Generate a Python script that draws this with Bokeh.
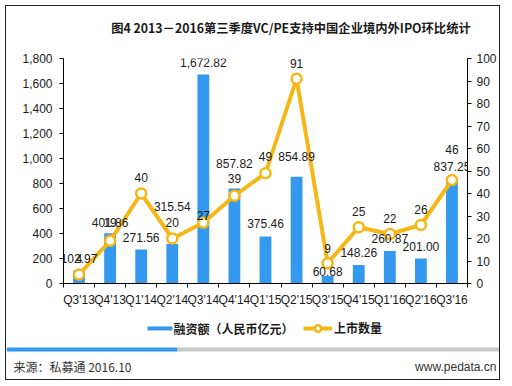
from bokeh.plotting import figure
from bokeh.layouts import column
from bokeh.models import (Range1d, LinearAxis, FixedTicker, NumeralTickFormatter,
                          ColumnDataSource, LabelSet, Label, BoxAnnotation, Legend, LegendItem)
from bokeh.core.properties import value
from bokeh.embed import file_html
from bokeh.resources import INLINE

# ---- data ----
quarters = ["Q3'13", "Q4'13", "Q1'14", "Q2'14", "Q3'14", "Q4'14", "Q1'15",
            "Q2'15", "Q3'15", "Q4'15", "Q1'16", "Q2'16", "Q3'16"]
amount = [102.97, 401.86, 271.56, 315.54, 1672.82, 857.82, 375.46,
          854.89, 60.68, 148.26, 260.87, 201.00, 837.25]
# bar heights as drawn in the picture (Q4'14 bar is drawn lower than its label)
bar_amount = [102.97, 401.86, 271.56, 315.54, 1672.82, 760.0, 375.46,
              854.89, 60.68, 148.26, 260.87, 201.00, 837.25]
ipo_count = [4, 19, 40, 20, 27, 39, 49, 91, 9, 25, 22, 26, 46]
left_ticks = [0, 200, 400, 600, 800, 1000, 1200, 1400, 1600, 1800]
right_ticks = [0, 10, 20, 30, 40, 50, 60, 70, 80, 90, 100]

# ---- label placement (pixels above the value) ----
bar_label_dy = [12, 11, 12, 38, 12, 13, 13, 20, 4, 12, 12, 12, 12]
cnt_label_dy = [16, 18, 16, 16, 7, 17, 17, 15, 15, 16, 16, 16, 31]

BLUE = "#3399EE"
YELLOW = "#F5B715"
TXT = "#1a1a1a"
NUMFONT = "Liberation Sans"
CJK = "Noto Sans CJK SC"
W = 493


def blank_fig(h):
    f = figure(width=W, height=h, x_range=Range1d(0, W), y_range=Range1d(h, 0),
               x_axis_location=None, y_axis_location=None,
               min_border_left=0, min_border_right=0, min_border_top=0, min_border_bottom=0,
               output_backend="svg", toolbar_location=None)
    f.grid.visible = False
    f.outline_line_color = None
    f.background_fill_color = "white"
    f.border_fill_color = "white"
    f.frame_align = False
    return f


# ---- header with title ----
head = blank_fig(44)
head.add_layout(Label(x=284.5, y=21,
                      text="图4 2013－2016第三季度VC/PE支持中国企业境内外IPO环比统计",
                      text_align="center", text_baseline="middle",
                      text_font=CJK, text_font_size="12.3px", text_font_style="bold",
                      text_color=TXT))

# ---- main chart ----
idx = list(range(len(quarters)))
src = ColumnDataSource(dict(
    x=idx, bar=bar_amount, amt=amount,
    amt_txt=[f"{v:,.2f}" for v in amount],
    cnt=ipo_count, cnt_txt=[str(c) for c in ipo_count],
    bdy=bar_label_dy, cdy=cnt_label_dy))

p = figure(frame_width=404, frame_height=225,
           min_border_left=57, min_border_right=32, min_border_top=8, min_border_bottom=26,
           x_range=Range1d(-0.5, len(quarters) - 0.5), y_range=Range1d(0, 1800),
           output_backend="svg", toolbar_location=None)
p.extra_y_ranges = {"cnt": Range1d(0, 100)}
p.grid.visible = False
p.outline_line_color = None
p.background_fill_color = "white"
p.border_fill_color = "white"
p.frame_align = False

xa = p.xaxis[0]
xa.ticker = FixedTicker(ticks=idx, minor_ticks=[i - 0.5 for i in range(len(quarters) + 1)])
xa.major_label_overrides = {i: q for i, q in enumerate(quarters)}
xa.major_tick_out = 0
xa.major_tick_in = 0
xa.minor_tick_out = 4
xa.minor_tick_in = 0
xa.minor_tick_line_color = "black"
xa.axis_line_color = "black"
xa.major_label_standoff = 5
xa.major_label_text_font = NUMFONT
xa.major_label_text_font_size = "12px"
xa.major_label_text_color = TXT

ya = p.yaxis[0]
ya.ticker = FixedTicker(ticks=left_ticks)
ya.formatter = NumeralTickFormatter(format="0,0")
ya.major_tick_out = 4
ya.major_tick_in = 0
ya.minor_tick_out = 0
ya.minor_tick_in = 0
ya.axis_line_color = "black"
ya.major_tick_line_color = "black"
ya.major_label_standoff = 7
ya.major_label_text_font = NUMFONT
ya.major_label_text_font_size = "12px"
ya.major_label_text_color = TXT

ra = LinearAxis(y_range_name="cnt", ticker=FixedTicker(ticks=right_ticks))
ra.major_tick_out = 4
ra.major_tick_in = 0
ra.minor_tick_out = 0
ra.minor_tick_in = 0
ra.axis_line_color = "black"
ra.major_tick_line_color = "black"
ra.major_label_standoff = 5
ra.major_label_text_font = NUMFONT
ra.major_label_text_font_size = "12px"
ra.major_label_text_color = TXT
p.add_layout(ra, "right")

p.vbar(x="x", top="bar", width=0.38, source=src, fill_color=BLUE, line_color=None)
p.line(x="x", y="cnt", y_range_name="cnt", source=src, line_color=YELLOW, line_width=4)
p.scatter(x="x", y="cnt", y_range_name="cnt", source=src, size=10,
          fill_color="white", line_color=YELLOW, line_width=2.5)

p.add_layout(LabelSet(x="x", y="amt", text="amt_txt", y_offset="bdy", source=src,
                      text_align="center", text_baseline="middle",
                      text_font=value(NUMFONT), text_font_size="12px", text_color=TXT))
p.add_layout(LabelSet(x="x", y="cnt", text="cnt_txt", y_offset="cdy", source=src,
                      y_range_name="cnt", text_align="center", text_baseline="middle",
                      text_font=value(NUMFONT), text_font_size="12px", text_color=TXT))

# ---- footer: legend, separator, source ----
foot = blank_fig(70)
foot.add_layout(BoxAnnotation(left=141, right=166, top=17, bottom=21,
                              fill_color=BLUE, fill_alpha=1, line_color=None))
foot.add_layout(Label(x=167, y=19, text="融资额（人民币亿元）",
                      text_align="left", text_baseline="middle",
                      text_font=CJK, text_font_size="12px", text_font_style="bold",
                      text_color=TXT))
nan = float("nan")
dummy_line = foot.line(x=[nan, nan], y=[nan, nan], line_color=YELLOW, line_width=4)
dummy_pts = foot.scatter(x=[nan], y=[nan], size=10, fill_color="white",
                         line_color=YELLOW, line_width=2.5)
leg = Legend(items=[LegendItem(label="上市数量", renderers=[dummy_line, dummy_pts])],
             location=(297, 43), orientation="horizontal",
             glyph_width=29, glyph_height=16, label_height=16, label_standoff=2,
             padding=0, margin=0, border_line_alpha=0, background_fill_alpha=0,
             label_text_font=CJK, label_text_font_size="12px",
             label_text_font_style="bold", label_text_color=TXT)
foot.add_layout(leg)

foot.add_layout(BoxAnnotation(left=0, right=171, top=38, bottom=42,
                              fill_color=BLUE, fill_alpha=1, line_color=None))
foot.add_layout(BoxAnnotation(left=171, right=W, top=38, bottom=42,
                              fill_color="#C8C8C8", fill_alpha=1, line_color=None))
foot.add_layout(Label(x=7, y=57, text="来源：私募通 2016.10",
                      text_align="left", text_baseline="middle",
                      text_font=CJK, text_font_size="12px", text_color="#333333"))
foot.add_layout(Label(x=490, y=57, text="www.pedata.cn",
                      text_align="right", text_baseline="middle",
                      text_font=NUMFONT, text_font_size="12px", text_color="#333333"))

layout = column(head, p, foot, spacing=0,
                styles={"border": "1px solid #222222", "margin-left": "5px",
                        "margin-top": "5px"})

open("out.html", "w").write(file_html(layout, INLINE))
